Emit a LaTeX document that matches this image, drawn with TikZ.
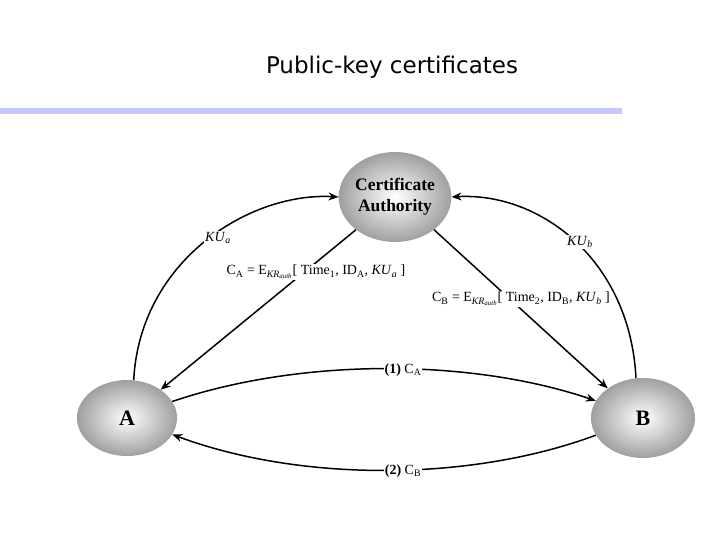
\documentclass[tikz,border=0pt]{standalone}
\usepackage{fontspec}
\setmainfont{Liberation Serif}
\newfontfamily\titlefont{DejaVu Sans}
\usetikzlibrary{arrows.meta,shapes.geometric}

\tikzset{
  party/.style={ellipse, inner sep=0pt, shade, inner color=white, outer color=gray!75, font=\bfseries\fontsize{22}{24}\selectfont},
  link/.style={line width=1.5pt, -{Stealth[length=10pt,width=8pt]}},
  lbl/.style={fill=white, inner sep=1pt, font=\fontsize{14}{15}\selectfont}
}
\newcommand{\sub}[1]{\textsubscript{#1}}

\begin{document}
\begin{tikzpicture}[x=1pt,y=-1pt]
    \useasboundingbox (0,0) rectangle (720,540);

    % Title
    \node[font=\titlefont\fontsize{23}{26}\selectfont] (title) at (392,67) {Public-key certificates};
    \fill[blue!22] (0,108) rectangle (622,114);

    % Parties
    \node[party, minimum width=104pt, minimum height=90pt, align=center, font=\bfseries\fontsize{17.5}{21}\selectfont] (CA) at (395,197) {Certificate\\Authority};
    \node[party, minimum width=100pt, minimum height=76pt] (A) at (127,418) {A};
    \node[party, minimum width=104pt, minimum height=80pt] (B) at (643,418) {B};

    % Requests with public keys
    \draw[link] (A.80) .. controls (140,260) and (250,192) .. (CA.180);
    \draw[link] (B.100) .. controls (630,260) and (540,192) .. (CA.0);
    \node[lbl] (kua) at (218,238) {\textit{KU}\sub{\textit{a}}};
    \node[lbl] (kub) at (580,242) {\textit{KU}\sub{\textit{b}}};

    % Certificates issued
    \draw[link] (CA.220) -- (A.40);
    \draw[link] (CA.-40) -- (B.140);
    \node[lbl] (ca) at (316,272) {C\sub{A} = E\sub{\textit{KR}\sub{\textit{auth}}}[ Time\sub{1}, ID\sub{A}, \textit{KU}\sub{\textit{a}} ]};
    \node[lbl] (cb) at (521,299) {C\sub{B} = E\sub{\textit{KR}\sub{\textit{auth}}}[ Time\sub{2}, ID\sub{B}, \textit{KU}\sub{\textit{b}} ]};

    % Exchange
    \draw[link] (A.20) .. controls (300,358) and (470,358) .. (B.160);
    \draw[link] (B.-160) .. controls (470,482) and (300,482) .. (A.-20);
    \node[lbl] (m1) at (403,370) {\textbf{(1)} C\sub{A}};
    \node[lbl] (m2) at (403,471) {\textbf{(2)} C\sub{B}};
\end{tikzpicture}
\end{document}
